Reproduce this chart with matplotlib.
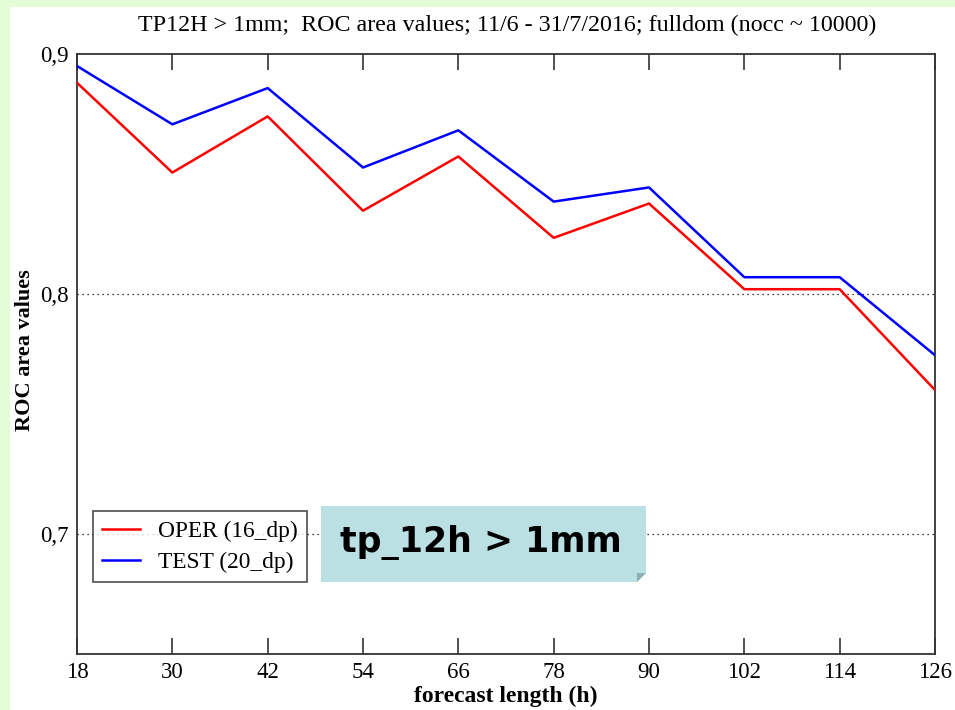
import numpy as np
import matplotlib.pyplot as plt
from matplotlib.patches import Rectangle, Polygon

# forecast lengths (h) and ROC area values
lead = [18, 30, 42, 54, 66, 78, 90, 102, 114, 126]
oper = [0.888, 0.8506, 0.874, 0.8347, 0.8573, 0.8234, 0.8377, 0.802, 0.802, 0.760]
test = [0.895, 0.8707, 0.8858, 0.8527, 0.8682, 0.8385, 0.8444, 0.807, 0.807, 0.7745]
ytick_vals = [0.7, 0.8, 0.9]
ytick_labels = ["0,7", "0,8", "0,9"]

W, H = 955, 710
fig = plt.figure(figsize=(W / 100, H / 100), dpi=100)
fig.patch.set_facecolor("#e4fcd8")
fig.patches.append(Rectangle((10 / W, 0), 1 - 10 / W, 1 - 7 / H,
                             transform=fig.transFigure, facecolor="white",
                             edgecolor="none", zorder=-1))

serif = "Liberation Serif"
ax = fig.add_axes([77 / W, 1 - 654 / H, (935 - 77) / W, (654 - 54) / H])
ax.set_facecolor("white")
ax.set_zorder(1)

for y in [0.7, 0.8]:
    ax.axhline(y, color="black", linestyle=(0, (1, 3)), linewidth=0.9, zorder=1)

ax.plot(lead, oper, color="#ff0000", linewidth=1.8, label="OPER (16_dp)", zorder=3)
ax.plot(lead, test, color="#0000ff", linewidth=1.8, label="TEST (20_dp)", zorder=3)

ax.set_xlim(18, 126)
ax.set_ylim(0.65, 0.9)
ax.set_xticks(lead)
ax.set_xticklabels([str(v) for v in lead], fontfamily=serif, fontsize=16.5)
ax.set_yticks(ytick_vals)
ax.set_yticklabels(ytick_labels, fontfamily=serif, fontsize=16.5)
ax.tick_params(axis="x", direction="in", length=11.5, width=1.2, top=True,
               pad=6, color="#333333")
ax.tick_params(axis="y", length=0, pad=6)
for s in ax.spines.values():
    s.set_color("#333333")
    s.set_linewidth(1.3)

ax.set_xlabel("forecast length (h)", fontfamily=serif, fontweight="bold",
              fontsize=17, labelpad=2)
fig.text(25 / W, 1 - 350 / H, "ROC area values", rotation=90, ha="center",
         va="center", fontfamily=serif, fontweight="bold", fontsize=16)
fig.text(507 / W, 1 - 25 / H,
         "TP12H > 1mm;  ROC area values; 11/6 - 31/7/2016; fulldom (nocc ~ 10000)",
         ha="center", va="center", fontfamily=serif, fontsize=17.3)

leg = ax.legend(loc="upper left", bbox_to_anchor=((93 - 77) / (935 - 77), (654 - 511) / 600),
                prop={"family": serif, "size": 16.8}, frameon=True, fancybox=False,
                borderpad=0.4, labelspacing=0.42, handlelength=1.6, handletextpad=0.8,
                borderaxespad=0)
leg.get_frame().set_edgecolor("#222222")
leg.get_frame().set_linewidth(1.2)
leg.set_zorder(5)

# teal note box with folded corner
x0, x1, y0, y1, c = 321 / W, 646 / W, 1 - 582 / H, 1 - 506 / H, 9
box = Polygon([(x0, y0), (x1 - c / W, y0), (x1, y0 + c / H), (x1, y1), (x0, y1)],
              closed=True, transform=fig.transFigure, facecolor="#bae0e3",
              edgecolor="none", zorder=6)
fold = Polygon([(x1 - c / W, y0), (x1, y0 + c / H), (x1 - c / W, y0 + c / H)],
               closed=True, transform=fig.transFigure, facecolor="#8fb0b3",
               edgecolor="none", zorder=7)
fig.patches.extend([box, fold])
fig.text(481 / W, 1 - 542 / H, "tp_12h > 1mm", ha="center", va="center",
         fontfamily="DejaVu Sans", fontweight="bold", fontsize=25, zorder=8)

fig.savefig("out.png", dpi=100, facecolor=fig.get_facecolor())
